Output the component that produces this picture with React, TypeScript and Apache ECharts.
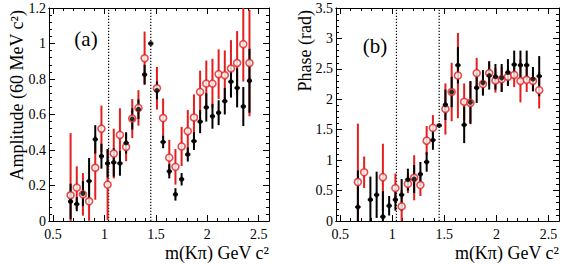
import React, { useEffect, useRef } from "react";
import * as echarts from "echarts";

// Bin centres of m(Kπ) in GeV/c^2 (60 MeV bins)
const mass = [
  0.67, 0.73, 0.79, 0.85, 0.91, 0.97, 1.03, 1.09, 1.15, 1.21, 1.27, 1.33, 1.39, 1.45, 1.51,
  1.57, 1.63, 1.69, 1.75, 1.81, 1.87, 1.93, 1.99, 2.05, 2.11, 2.17, 2.23, 2.29, 2.35, 2.41,
];

// (a) amplitude
const ampBlack = [
  0.11, 0.095, 0.155, 0.225, 0.46, 0.365, 0.325, 0.33, 0.325, 0.44, 0.575, 0.63, 0.825, 1.0, 0.735,
  0.445, 0.28, 0.15, 0.235, 0.375, 0.45, 0.56, 0.64, 0.59, 0.61, 0.675, 0.785, 0.75, 0.645, 0.79,
];
const ampBlackErr = [
  0.1, 0.04, 0.07, 0.13, 0.08, 0.07, 0.08, 0.08, 0.07, 0.06, 0.06, 0.055, 0.055, 0, 0.05,
  0.035, 0.04, 0.035, 0.035, 0.04, 0.05, 0.065, 0.08, 0.07, 0.07, 0.075, 0.09, 0.11, 0.11, 0.18,
];
const ampRed = [
  0.145, 0.188, 0.15, 0.111, 0.3, 0.52, 0.205, 0.38, 0.485, 0.417, 0.577, 0.637, 0.917, null, 0.748,
  0.58, 0.357, 0.305, 0.42, 0.506, 0.583, 0.727, 0.774, 0.774, 0.827, 0.821, 0.859, 0.89, 0.996, 0.89,
];
const ampRedErr = [
  0.35, 0.12, 0.12, 0.11, 0.18, 0.13, 0.2, 0.14, 0.15, 0.08, 0.11, 0.1, 0.15, null, 0.12,
  0.11, 0.1, 0.1, 0.11, 0.12, 0.13, 0.12, 0.13, 0.14, 0.14, 0.14, 0.16, 0.18, 0.21, 0.3,
];

// (b) phase
const phaseBlack = [
  0.23, null, 0.35, 0.43, 0.07, 0.25, 0.35, 0.43, 0.68, 0.69, 0.77, 0.97, 1.33, 1.57, 1.91,
  2.12, 2.56, 1.58, 1.95, 2.19, 2.27, 2.39, 2.37, 2.35, 2.44, 2.57, 2.56, 2.56, 2.33, 2.38,
];
const phaseBlackErr = [
  0.6, null, 0.38, 0.38, 0.42, 0.16, 0.18, 0.26, 0.18, 0.23, 0.2, 0.16, 0.16, 0, 0.25,
  0.25, 0.3, 0.3, 0.35, 0.25, 0.21, 0.23, 0.21, 0.23, 0.22, 0.23, 0.24, 0.24, 0.2, 0.33,
];
const phaseRed = [
  0.64, 0.8, null, null, 0.72, null, 0.54, 0.24, 0.61, 0.71, 0.59, 1.32, 1.53, null, 1.84,
  2.12, 2.39, 1.96, 1.94, 2.43, 2.25, 2.43, 2.31, 2.33, 2.37, 2.4, 2.3, 2.32, 2.3, 2.15,
];
const phaseRedErr = [
  0.96, 0.26, null, null, 0.55, null, 0.24, 0.27, 0.15, 0.37, 0.18, 0.24, 0.21, null, 0.42,
  0.48, 0.7, 0.3, 0.35, 0.25, 0.15, 0.2, 0.2, 0.2, 0.15, 0.2, 0.35, 0.2, 0.15, 0.3,
];

// Axis ticks
const xMajorTicks = [0.5, 1, 1.5, 2, 2.5];
const xMinorTicks = [
  0.5, 0.6, 0.7, 0.8, 0.9, 1.0, 1.1, 1.2, 1.3, 1.4, 1.5, 1.6, 1.7, 1.8, 1.9, 2.0, 2.1, 2.2, 2.3,
  2.4, 2.5, 2.6,
];
const xRange = [0.46, 2.6];
const ampRange = [0, 1.2, 0.2];
const phaseRange = [0, 3.5, 0.5];

// Vertical dotted markers at the region boundaries
const boundaries = [1.04, 1.45];

const RED = "#e31e1e";
const FONT = '"Liberation Serif", "Times New Roman", serif';

function pairs(vals: (number | null)[], errs: (number | null)[]) {
  const out: number[][] = [];
  mass.forEach((m, i) => {
    const v = vals[i];
    if (v !== null && v !== undefined) out.push([m, v, errs[i] ?? 0]);
  });
  return out;
}

function errorBars(xi: number, yi: number, vals: any[], errs: any[], color: string, halfWidth: number, lw: number, z: number) {
  return {
    type: "custom",
    xAxisIndex: xi,
    yAxisIndex: yi,
    clip: true,
    silent: true,
    z,
    data: pairs(vals, errs),
    encode: { x: 0, y: 1 },
    renderItem: (_p: any, api: any) => {
      const m = api.value(0);
      const v = api.value(1);
      const e = api.value(2);
      const lo = api.coord([m, v - e]);
      const hi = api.coord([m, v + e]);
      const children: any[] = [];
      if (e > 0) {
        children.push({
          type: "line",
          shape: { x1: lo[0], y1: lo[1], x2: hi[0], y2: hi[1] },
          style: { stroke: color, lineWidth: lw },
        });
      }
      if (halfWidth > 0) {
        const l = api.coord([m - halfWidth, v]);
        const r = api.coord([m + halfWidth, v]);
        children.push({
          type: "line",
          shape: { x1: l[0], y1: l[1], x2: r[0], y2: r[1] },
          style: { stroke: color, lineWidth: lw },
        });
      }
      return { type: "group", children };
    },
  };
}

function markers(xi: number, yi: number, vals: any[], open: boolean, z: number) {
  return {
    type: "scatter",
    xAxisIndex: xi,
    yAxisIndex: yi,
    silent: true,
    z,
    symbol: "circle",
    symbolSize: open ? 7 : 5,
    itemStyle: open
      ? { color: "#ffffff", borderColor: RED, borderWidth: 1.6 }
      : { color: "#000000" },
    data: pairs(vals, vals).map((d) => [d[0], d[1]]),
  };
}

function dottedLines(xi: number, yi: number, yMin: number, yMax: number) {
  return {
    type: "custom",
    xAxisIndex: xi,
    yAxisIndex: yi,
    silent: true,
    z: 1,
    data: boundaries.map((b) => [b]),
    encode: { x: 0 },
    renderItem: (_p: any, api: any) => {
      const b = api.value(0);
      const p0 = api.coord([b, yMin]);
      const p1 = api.coord([b, yMax]);
      return {
        type: "line",
        shape: { x1: p0[0], y1: p0[1], x2: p1[0], y2: p1[1] },
        style: { stroke: "#000", lineWidth: 1.2, lineDash: [1.2, 1.8] },
      };
    },
  };
}

function xAxes(grid: number) {
  const base = {
    type: "value",
    gridIndex: grid,
    min: xRange[0],
    max: xRange[1],
    splitLine: { show: false },
    axisLine: { show: true, onZero: false, lineStyle: { color: "#000", width: 1 } },
  };
  const label = {
    show: true,
    customValues: xMajorTicks,
    color: "#000",
    fontFamily: FONT,
    fontSize: 14,
    margin: 6,
  };
  return [
    { ...base, position: "bottom", axisTick: { show: true, inside: true, length: 6, customValues: xMajorTicks, lineStyle: { color: "#000" } }, axisLabel: label },
    { ...base, position: "bottom", axisTick: { show: true, inside: true, length: 3, customValues: xMinorTicks, lineStyle: { color: "#000" } }, axisLabel: { show: false } },
    { ...base, position: "top", axisTick: { show: true, inside: true, length: 6, customValues: xMajorTicks, lineStyle: { color: "#000" } }, axisLabel: { show: false } },
    { ...base, position: "top", axisTick: { show: true, inside: true, length: 3, customValues: xMinorTicks, lineStyle: { color: "#000" } }, axisLabel: { show: false } },
  ];
}

function yAxes(grid: number, range: number[]) {
  const base = {
    type: "value",
    gridIndex: grid,
    min: range[0],
    max: range[1],
    interval: range[2],
    splitLine: { show: false },
    minorSplitLine: { show: false },
    axisLine: { show: true, onZero: false, lineStyle: { color: "#000", width: 1 } },
    axisTick: { show: true, inside: true, length: 6, lineStyle: { color: "#000" } },
    minorTick: { show: true, splitNumber: 5, length: 3, lineStyle: { color: "#000" } },
  };
  return [
    { ...base, position: "left", axisLabel: { show: true, color: "#000", fontFamily: FONT, fontSize: 14, margin: 3 } },
    { ...base, position: "right", axisLabel: { show: false } },
  ];
}

function titleText(text: string, x: number, y: number, align: string, vertical: boolean) {
  return {
    type: "text",
    x,
    y,
    rotation: vertical ? Math.PI / 2 : 0,
    silent: true,
    style: {
      text,
      fill: "#000",
      font: `18px ${FONT}`,
      align,
      verticalAlign: "middle",
    },
  };
}

export default function App() {
  const ref = useRef<HTMLDivElement>(null);

  useEffect(() => {
    if (!ref.current) return;
    const chart = echarts.init(ref.current, null, { renderer: "svg" });
    const option: any = {
      animation: false,
      backgroundColor: "#ffffff",
      grid: [
        { left: 49, top: 8, width: 220, height: 213 },
        { left: 336, top: 8, width: 223, height: 213 },
      ],
      xAxis: [...xAxes(0), ...xAxes(1)],
      yAxis: [...yAxes(0, ampRange), ...yAxes(1, phaseRange)],
      series: [
        dottedLines(0, 0, ampRange[0], ampRange[1]),
        errorBars(0, 0, ampRed, ampRedErr, RED, 0, 2, 2),
        errorBars(0, 0, ampBlack, ampBlackErr, "#000", 0.025, 2, 3),
        markers(0, 0, ampRed, true, 4),
        markers(0, 0, ampBlack, false, 5),
        dottedLines(4, 2, phaseRange[0], phaseRange[1]),
        errorBars(4, 2, phaseRed, phaseRedErr, RED, 0, 2, 2),
        errorBars(4, 2, phaseBlack, phaseBlackErr, "#000", 0.025, 2, 3),
        markers(4, 2, phaseRed, true, 4),
        markers(4, 2, phaseBlack, false, 5),
      ],
      graphic: [
        titleText("Amplitude (60 MeV c²)", 17, 10, "right", true),
        titleText("Phase (rad)", 305, 10, "right", true),
        titleText("m(Kπ) GeV c²", 269, 253, "right", false),
        titleText("m(Kπ) GeV c²", 559, 253, "right", false),
        {
          type: "text",
          x: 86,
          y: 39,
          silent: true,
          style: { text: "(a)", fill: "#000", font: `21px ${FONT}`, align: "center", verticalAlign: "middle" },
        },
        {
          type: "text",
          x: 375,
          y: 46,
          silent: true,
          style: { text: "(b)", fill: "#000", font: `21px ${FONT}`, align: "center", verticalAlign: "middle" },
        },
      ],
    };
    chart.setOption(option);
    return () => chart.dispose();
  }, []);

  return <div ref={ref} style={{ width: 564, height: 264, position: "absolute", left: 0, top: 0 }} />;
}
